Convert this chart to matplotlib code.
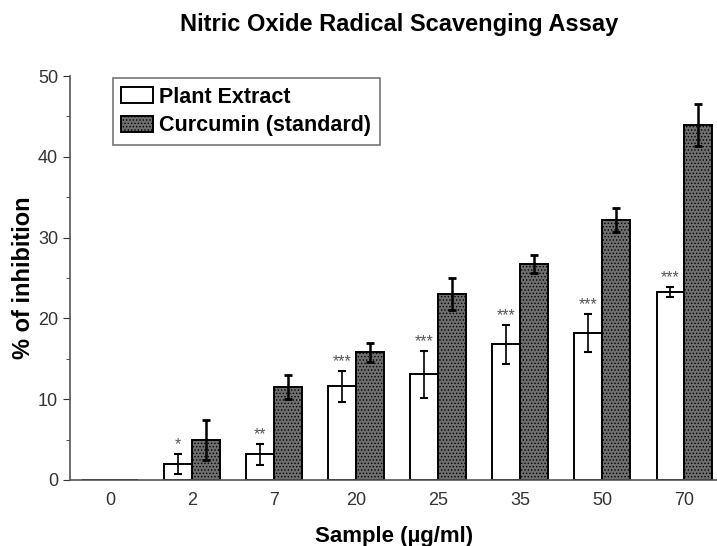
import numpy as np
import matplotlib
matplotlib.use("Agg")
import matplotlib.pyplot as plt
from matplotlib.ticker import MultipleLocator

plt.rcParams['font.family'] = ['Liberation Sans', 'DejaVu Sans']
plt.rcParams['hatch.color'] = '#4a4a4a'
plt.rcParams['hatch.linewidth'] = 0.6

# data
doses = ['0', '2', '7', '20', '25', '35', '50', '70']
plant = [0, 2.0, 3.2, 11.6, 13.1, 16.8, 18.2, 23.3]
plant_err = [0, 1.2, 1.3, 1.9, 2.9, 2.4, 2.4, 0.6]
curcumin = [0, 4.95, 11.5, 15.8, 23.0, 26.7, 32.2, 43.9]
curcumin_err = [0, 2.5, 1.5, 1.2, 2.0, 1.1, 1.5, 2.6]
stars = ['', '*', '**', '***', '***', '***', '***', '***']

fig = plt.figure(figsize=(7.17, 5.46), dpi=100)
ax = fig.add_axes([0.0976, 0.1209, 0.905, 0.7399])

x = np.arange(len(doses))
w = 0.34

ax.bar(x - w / 2, plant, w, color='white', edgecolor='black', linewidth=1.4,
       label='Plant Extract')
ax.bar(x + w / 2, curcumin, w, color='#6e6e6e', edgecolor='black', linewidth=1.4,
       hatch='.....', label='Curcumin (standard)')

for i in range(len(doses)):
    if plant[i] > 0:
        ax.errorbar(x[i] - w / 2, plant[i], yerr=plant_err[i], fmt='none', ecolor='black',
                    elinewidth=1.2, capsize=3, capthick=1.5)
    if curcumin[i] > 0:
        ax.errorbar(x[i] + w / 2, curcumin[i], yerr=curcumin_err[i], fmt='none',
                    ecolor='black', elinewidth=1.8, capsize=3, capthick=2)
    if stars[i]:
        ax.text(x[i] - w / 2, plant[i] + plant_err[i] + 0.2, stars[i], ha='center',
                va='bottom', fontsize=11.5, color='#555555')

ax.set_xlim(-0.49, 7.42)
ax.set_ylim(0, 50)
ax.set_xticks(x)
ax.set_xticklabels(doses)
ax.yaxis.set_major_locator(MultipleLocator(10))
ax.yaxis.set_minor_locator(MultipleLocator(5))
ax.tick_params(axis='x', length=0, labelsize=13, pad=9, colors='#333333')
ax.tick_params(axis='y', which='major', direction='out', length=5, labelsize=13,
               colors='#333333')
ax.tick_params(axis='y', which='minor', direction='out', length=3, colors='#333333')
for s in ['top', 'right']:
    ax.spines[s].set_visible(False)
for s in ['left', 'bottom']:
    ax.spines[s].set_color('#555555')
    ax.spines[s].set_linewidth(1.2)

ax.set_ylabel('% of inhibition', fontsize=17, fontweight='bold', labelpad=2)
ax.set_xlabel('Sample (\u00b5g/ml)', fontsize=16, fontweight='bold', labelpad=12)
fig.text(0.5565, 0.955, 'Nitric Oxide Radical Scavenging Assay', ha='center', va='center',
         fontsize=17, fontweight='bold')

leg = ax.legend(loc='upper left', bbox_to_anchor=(0.066, 0.995), borderaxespad=0,
                prop={'weight': 'bold', 'size': 15.5}, fancybox=False,
                edgecolor='#777777', framealpha=1, handlelength=1.45, handleheight=0.75,
                handletextpad=0.3, borderpad=0.4, labelspacing=0.35)
leg.get_frame().set_linewidth(1.2)

fig.savefig('out.png', dpi=100)
